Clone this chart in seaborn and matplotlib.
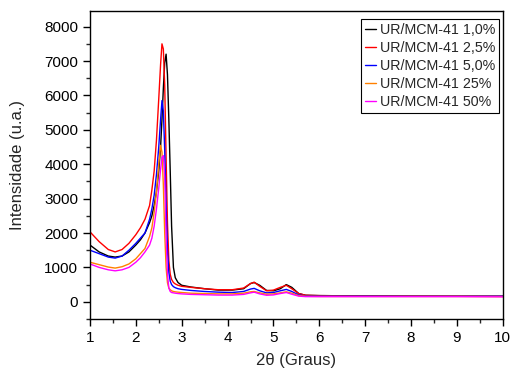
import numpy as np
import pandas as pd
import matplotlib
matplotlib.use("Agg")
import matplotlib.pyplot as plt
from matplotlib.ticker import MultipleLocator
import seaborn as sns

# 2theta grid shared by all samples
two_theta = [1.0, 1.2, 1.4, 1.55, 1.7, 1.85,
             2.0, 2.1, 2.2, 2.3, 2.35, 2.4, 2.45, 2.5,
             2.54, 2.57, 2.6, 2.63, 2.66, 2.69, 2.72, 2.75, 2.78, 2.82, 2.86, 2.92,
             3.0, 3.2, 3.5, 3.8, 4.1, 4.35, 4.5, 4.58, 4.7, 4.85,
             5.0, 5.15, 5.28, 5.4, 5.55, 5.7,
             6.0, 7.0, 8.0, 9.0, 10.0]

ur_1_0 = [1650, 1450, 1330, 1300, 1330, 1450,
          1650, 1800, 2000, 2300, 2500, 2800, 3200, 3800,
          4500, 5300, 6200, 6950, 7200, 6600, 5300, 3800, 2200, 1000, 700, 560,
          480, 430, 380, 340, 340, 380, 530, 560, 480, 330,
          320, 380, 500, 420, 240, 190,
          180, 170, 165, 160, 160]

ur_2_5 = [2035, 1750, 1520, 1450, 1520, 1700,
          1950, 2150, 2400, 2800, 3250, 3800, 4700, 5900,
          6900, 7500, 7350, 6300, 4200, 2300, 1200, 800, 650, 560, 520, 480,
          450, 420, 380, 350, 350, 400, 530, 570, 450, 320,
          340, 420, 480, 380, 240, 190,
          180, 170, 165, 165, 160]

ur_5_0 = [1500, 1400, 1300, 1270, 1330, 1500,
          1700, 1850, 2000, 2400, 2700, 3100, 3700, 4500,
          5300, 5850, 5550, 4400, 2800, 1500, 850, 600, 500, 440, 410, 380,
          360, 330, 300, 280, 270, 300, 370, 390, 320, 260,
          270, 320, 360, 300, 200, 170,
          165, 165, 160, 160, 160]

ur_25 = [1150, 1080, 1010, 980, 1020, 1100,
         1250, 1400, 1550, 1900, 2150, 2600, 3200, 4000,
         4550, 4350, 3400, 2000, 1000, 550, 400, 350, 320, 300, 290, 280,
         270, 250, 240, 230, 230, 250, 290, 300, 260, 220,
         230, 260, 290, 250, 180, 160,
         155, 155, 155, 155, 150]

ur_50 = [1100, 1000, 930, 900, 930, 1000,
         1150, 1280, 1450, 1650, 1850, 2200, 2700, 3300,
         3850, 4200, 4250, 3650, 1900, 800, 400, 300, 270, 260, 250, 240,
         230, 215, 205, 195, 195, 215, 260, 280, 230, 190,
         200, 240, 270, 220, 165, 150,
         150, 150, 150, 150, 145]

labels = ["UR/MCM-41 1,0%", "UR/MCM-41 2,5%", "UR/MCM-41 5,0%",
          "UR/MCM-41 25%", "UR/MCM-41 50%"]
colors = ["black", "#FF0000", "#0000FF", "#FF8000", "#FF00FF"]
series = [ur_1_0, ur_2_5, ur_5_0, ur_25, ur_50]

frames = []
for lab, vals in zip(labels, series):
    frames.append(pd.DataFrame({"x": two_theta, "y": vals, "amostra": lab}))
df = pd.concat(frames, ignore_index=True)

sns.set_style("ticks")
plt.rcParams["font.family"] = ["Liberation Sans", "DejaVu Sans"]

fig = plt.figure(figsize=(5.11, 3.72), dpi=100)
ax = fig.add_axes([0.176, 0.1425, 0.808, 0.8275])

sns.lineplot(data=df, x="x", y="y", hue="amostra", hue_order=labels,
             palette=colors, linewidth=1.0, ax=ax)

ax.set_xlim(1, 10)
ax.set_ylim(-500, 8450)
ax.xaxis.set_major_locator(MultipleLocator(1))
ax.xaxis.set_minor_locator(MultipleLocator(0.5))
ax.yaxis.set_major_locator(MultipleLocator(1000))
ax.yaxis.set_minor_locator(MultipleLocator(500))
ax.set_yticks(np.arange(0, 8001, 1000))
ax.tick_params(which="major", direction="out", length=5, width=1, labelsize=11, colors="black")
ax.tick_params(which="minor", direction="out", length=3, width=1)
for sp in ax.spines.values():
    sp.set_linewidth(1.0)
    sp.set_color("black")

ax.set_xlabel(u"2\u03b8 (Graus)", fontsize=12, labelpad=6)
ax.set_ylabel("Intensidade (u.a.)", fontsize=12, labelpad=14)

leg = ax.legend(loc="upper right", fontsize=10.3, frameon=True, fancybox=False,
                edgecolor="black", framealpha=1, handlelength=0.8,
                handletextpad=0.3, labelspacing=0.28, borderpad=0.25,
                borderaxespad=0.25, bbox_to_anchor=(1.0, 0.985))
leg.get_frame().set_linewidth(0.8)

fig.savefig("out.png", dpi=100)
